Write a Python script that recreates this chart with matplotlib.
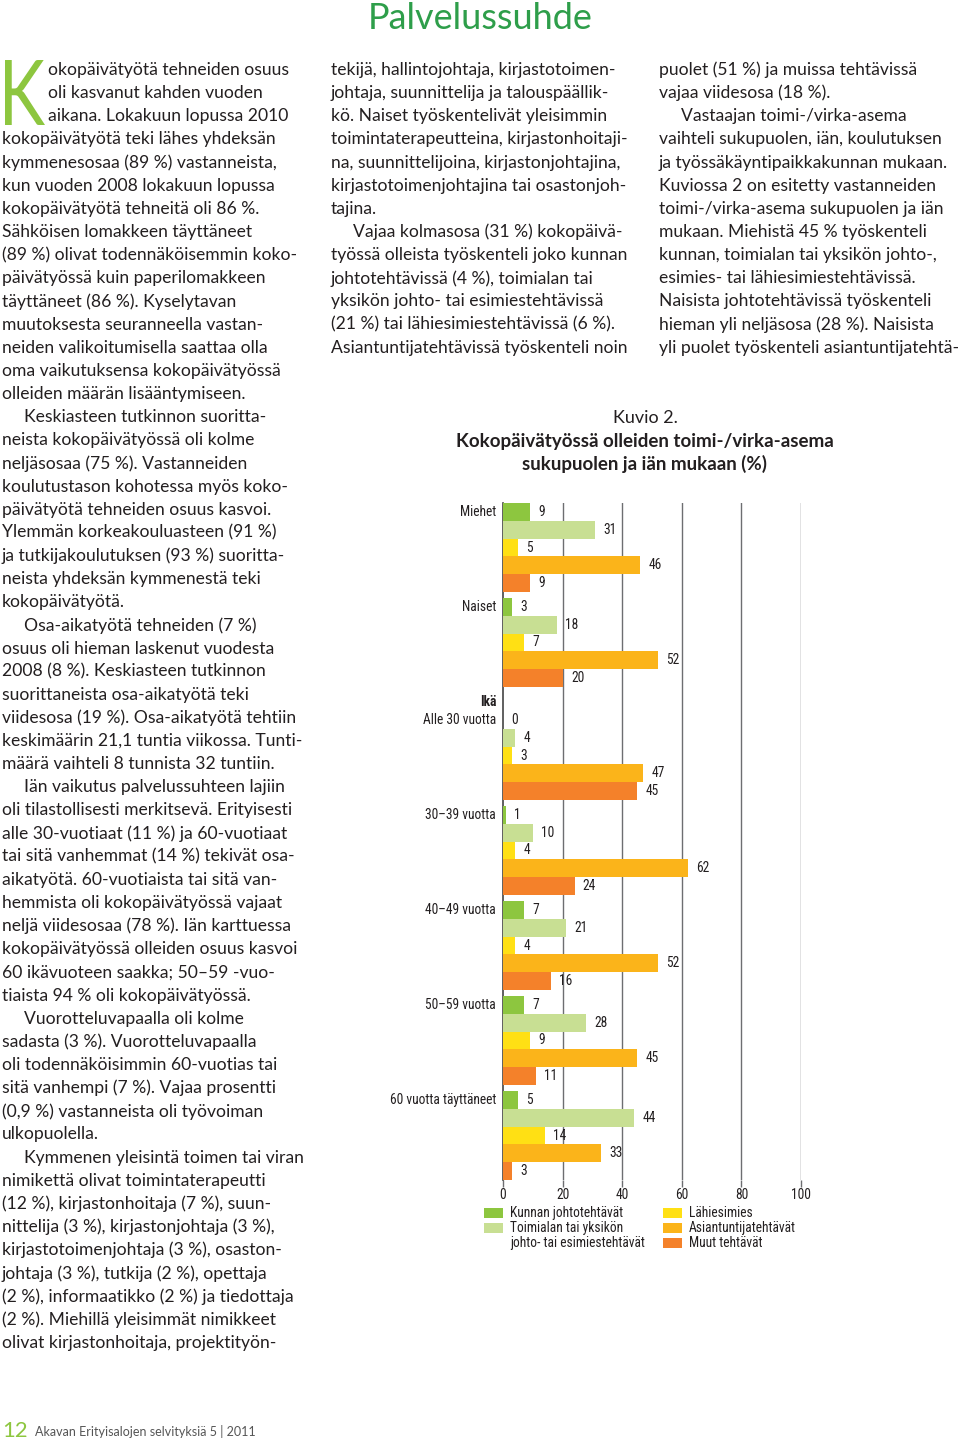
import matplotlib
matplotlib.use("Agg")
import matplotlib.pyplot as plt
from matplotlib import font_manager
from matplotlib.patches import Rectangle, PathPatch
from matplotlib.textpath import TextPath
from matplotlib.font_manager import FontProperties
from matplotlib.transforms import Affine2D

##########################
# data #
##########################

groups = ["Miehet", "Naiset", "Alle 30 vuotta", "30–39 vuotta",
          "40–49 vuotta", "50–59 vuotta", "60 vuotta täyttäneet"]
kunnan = [9, 3, 0, 1, 7, 7, 5]
toimiala = [31, 18, 4, 10, 21, 28, 44]
lahiesimies = [5, 7, 3, 4, 4, 9, 14]
asiantuntija = [46, 52, 47, 62, 52, 45, 33]
muut = [9, 20, 45, 24, 16, 11, 3]
series_names = ["Kunnan johtotehtävät", "Toimialan tai yksikön\njohto- tai esimiestehtävät",
                "Lähiesimies", "Asiantuntijatehtävät", "Muut tehtävät"]
x_ticks = [0, 20, 40, 60, 80, 100]

left_col = [
    "okopäivätyötä tehneiden osuus",
    "oli kasvanut kahden vuoden",
    "aikana. Lokakuun lopussa 2010",
    "kokopäivätyötä teki lähes yhdeksän",
    "kymmenesosaa (89 %) vastanneista,",
    "kun vuoden 2008 lokakuun lopussa",
    "kokopäivätyötä tehneitä oli 86 %.",
    "Sähköisen lomakkeen täyttäneet",
    "(89 %) olivat todennäköisemmin koko-",
    "päivätyössä kuin paperilomakkeen",
    "täyttäneet (86 %). Kyselytavan",
    "muutoksesta seuranneella vastan-",
    "neiden valikoitumisella saattaa olla",
    "oma vaikutuksensa kokopäivätyössä",
    "olleiden määrän lisääntymiseen.",
    ">Keskiasteen tutkinnon suoritta-",
    "neista kokopäivätyössä oli kolme",
    "neljäsosaa (75 %). Vastanneiden",
    "koulutustason kohotessa myös koko-",
    "päivätyötä tehneiden osuus kasvoi.",
    "Ylemmän korkeakouluasteen (91 %)",
    "ja tutkijakoulutuksen (93 %) suoritta-",
    "neista yhdeksän kymmenestä teki",
    "kokopäivätyötä.",
    ">Osa-aikatyötä tehneiden (7 %)",
    "osuus oli hieman laskenut vuodesta",
    "2008 (8 %). Keskiasteen tutkinnon",
    "suorittaneista osa-aikatyötä teki",
    "viidesosa (19 %). Osa-aikatyötä tehtiin",
    "keskimäärin 21,1 tuntia viikossa. Tunti-",
    "määrä vaihteli 8 tunnista 32 tuntiin.",
    ">Iän vaikutus palvelussuhteen lajiin",
    "oli tilastollisesti merkitsevä. Erityisesti",
    "alle 30-vuotiaat (11 %) ja 60-vuotiaat",
    "tai sitä vanhemmat (14 %) tekivät osa-",
    "aikatyötä. 60-vuotiaista tai sitä van-",
    "hemmista oli kokopäivätyössä vajaat",
    "neljä viidesosaa (78 %). Iän karttuessa",
    "kokopäivätyössä olleiden osuus kasvoi",
    "60 ikävuoteen saakka; 50–59 -vuo-",
    "tiaista 94 % oli kokopäivätyössä.",
    ">Vuorotteluvapaalla oli kolme",
    "sadasta (3 %). Vuorotteluvapaalla",
    "oli todennäköisimmin 60-vuotias tai",
    "sitä vanhempi (7 %). Vajaa prosentti",
    "(0,9 %) vastanneista oli työvoiman",
    "ulkopuolella.",
    ">Kymmenen yleisintä toimen tai viran",
    "nimikettä olivat toimintaterapeutti",
    "(12 %), kirjastonhoitaja (7 %), suun-",
    "nittelija (3 %), kirjastonjohtaja (3 %),",
    "kirjastotoimenjohtaja (3 %), osaston-",
    "johtaja (3 %), tutkija (2 %), opettaja",
    "(2 %), informaatikko (2 %) ja tiedottaja",
    "(2 %). Miehillä yleisimmät nimikkeet",
    "olivat kirjastonhoitaja, projektityön-",
]

mid_col = [
    "tekijä, hallintojohtaja, kirjastotoimen-",
    "johtaja, suunnittelija ja talouspäällik-",
    "kö. Naiset työskentelivät yleisimmin",
    "toimintaterapeutteina, kirjastonhoitaji-",
    "na, suunnittelijoina, kirjastonjohtajina,",
    "kirjastotoimenjohtajina tai osastonjoh-",
    "tajina.",
    ">Vajaa kolmasosa (31 %) kokopäivä-",
    "työssä olleista työskenteli joko kunnan",
    "johtotehtävissä (4 %), toimialan tai",
    "yksikön johto- tai esimiestehtävissä",
    "(21 %) tai lähiesimiestehtävissä (6 %).",
    "Asiantuntijatehtävissä työskenteli noin",
]

right_col = [
    "puolet (51 %) ja muissa tehtävissä",
    "vajaa viidesosa (18 %).",
    ">Vastaajan toimi-/virka-asema",
    "vaihteli sukupuolen, iän, koulutuksen",
    "ja työssäkäyntipaikkakunnan mukaan.",
    "Kuviossa 2 on esitetty vastanneiden",
    "toimi-/virka-asema sukupuolen ja iän",
    "mukaan. Miehistä 45 % työskenteli",
    "kunnan, toimialan tai yksikön johto-,",
    "esimies- tai lähiesimiestehtävissä.",
    "Naisista johtotehtävissä työskenteli",
    "hieman yli neljäsosa (28 %). Naisista",
    "yli puolet työskenteli asiantuntijatehtä-",
]

###########
# helpers #
###########

W, H = 960, 1442
FONT = "Lato"
TXT = "#231f20"
GREEN = "#8dc63f"
colors = ["#8dc63f", "#c8df93", "#ffe014", "#fbb41a", "#f4812a"]
BODY = 17.5

# the chart uses a narrow face; take the first narrow one that is installed
installed = {f.name for f in font_manager.fontManager.ttflist}
CHART_FONT, CHART_SIZE = "Lato", 12.2
for name, size in [("Roboto Condensed", 13.5), ("Liberation Sans Narrow", 13.5),
                   ("Open Sans Condensed", 13.5)]:
    if name in installed:
        CHART_FONT, CHART_SIZE = name, size
        break


def pt(px):
    # pixel height -> points at 100 dpi
    return px * 72 / 100


def fx(x):
    return x / W


def fy(y):
    return 1 - y / H


def write_column(fig, lines, x0, y0, step=23.14, size=BODY, first_indent=0):
    for i, line in enumerate(lines):
        x = x0
        if line.startswith(">"):
            line = line[1:]
            x = x0 + 22
        if i < 3 and first_indent:
            x = x0 + first_indent
        fig.text(fx(x), fy(y0 + i * step), line, fontsize=pt(size),
                 family=FONT, color=TXT, ha="left", va="center")


fig = plt.figure(figsize=(9.6, 14.42), dpi=100)
fig.patch.set_facecolor("white")

# page heading
fig.text(fx(480), fy(29), "Palvelussuhde", fontsize=pt(36), family=FONT,
         color="#2e9e4a", ha="center", va="baseline")

# drop cap, squeezed into the box it takes on the page
kpath = TextPath((0, 0), "K", size=100, prop=FontProperties(family=FONT))
ext = kpath.get_extents()
ktrans = (Affine2D().translate(-ext.x0, -ext.y0)
          .scale(40 / ext.width, 65 / ext.height)
          .translate(5, H - 125))
fig.add_artist(PathPatch(kpath, transform=ktrans, color=GREEN, linewidth=0))

# text columns
write_column(fig, left_col, 2, 70, first_indent=46)
write_column(fig, mid_col, 331, 70)
write_column(fig, right_col, 659, 70)

# chart title
fig.text(fx(645), fy(418), "Kuvio 2.", fontsize=pt(18), family=FONT,
         color=TXT, ha="center", va="center")
fig.text(fx(645), fy(441), "Kokopäivätyössä olleiden toimi-/virka-asema",
         fontsize=pt(18.8), family=FONT, weight="bold", color=TXT,
         ha="center", va="center")
fig.text(fx(645), fy(464), "sukupuolen ja iän mukaan (%)",
         fontsize=pt(18.8), family=FONT, weight="bold", color=TXT,
         ha="center", va="center")

######################
# the bar chart axes #
######################

ax = fig.add_axes([fx(503), fy(1180), 298 / W, 677 / H])
ax.set_xlim(0, 100)
ax.set_ylim(677, 0)

bar_h = 17.8
group_pitch = 95
series = [kunnan, toimiala, lahiesimies, asiantuntija, muut]

for gi, name in enumerate(groups):
    start = gi * group_pitch + (18 if gi >= 2 else 0)
    for si, vals in enumerate(series):
        yc = start + si * bar_h + bar_h / 2
        ax.barh(yc, vals[gi], height=bar_h, color=colors[si], linewidth=0, zorder=3)
        ax.text(vals[gi] + 2.8, yc, str(vals[gi]), fontsize=pt(CHART_SIZE),
                family=CHART_FONT, color=TXT, ha="left", va="center", zorder=4)
    ax.text(-2.3, start + bar_h / 2, name, fontsize=pt(CHART_SIZE), family=CHART_FONT,
            color=TXT, ha="right", va="center")

ax.text(-2.3, 199, "Ikä", fontsize=pt(CHART_SIZE), family=CHART_FONT, weight="bold",
        color=TXT, ha="right", va="center")

for xv in x_ticks[1:]:
    ax.axvline(xv, color="#6d6e71", linewidth=1.0, zorder=1)

for s in ["top", "right", "bottom"]:
    ax.spines[s].set_visible(False)
ax.spines["left"].set_color("#444444")
ax.spines["left"].set_linewidth(1.2)
ax.set_yticks([])
ax.set_xticks(x_ticks)
ax.set_xticklabels([str(v) for v in x_ticks], fontsize=pt(CHART_SIZE),
                   family=CHART_FONT, color=TXT)
ax.tick_params(axis="x", length=5, width=1, color="#6d6e71", pad=1)
ax.set_facecolor("none")

##########
# legend #
##########

legend_pos = [(484, 1213), (484, 1228), (663, 1213), (663, 1228), (663, 1243)]
for (lx, ly), c, label in zip(legend_pos, colors, series_names):
    fig.patches.append(Rectangle((fx(lx), fy(ly + 5)), 19 / W, 10 / H,
                                 transform=fig.transFigure, color=c, linewidth=0))
    for k, part in enumerate(label.split("\n")):
        fig.text(fx(lx + 26), fy(ly + k * 15), part,
                 fontsize=pt(CHART_SIZE if CHART_FONT != "Lato" else 12.8),
                 family=CHART_FONT, color=TXT, ha="left", va="center")

# footer
fig.text(fx(2), fy(1437), "12", fontsize=pt(22), family=FONT, color=GREEN,
         ha="left", va="baseline")
fig.text(fx(35), fy(1432), "Akavan Erityisalojen selvityksiä 5 | 2011",
         fontsize=pt(12.5), family=FONT, color="#555555", ha="left", va="center")

fig.savefig("out.png", dpi=100, facecolor="white")
